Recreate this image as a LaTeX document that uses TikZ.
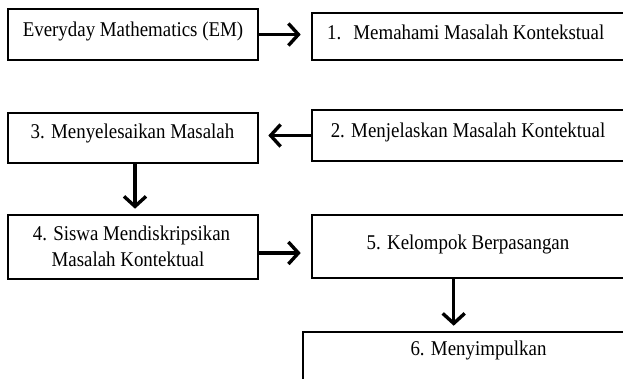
\documentclass[tikz,border=0pt]{standalone}
\usepackage{fontspec}
\setmainfont{Liberation Serif}[FakeStretch=0.9]
\usetikzlibrary{arrows.meta}
\begin{document}
\begin{tikzpicture}[x=1pt,y=-1pt,
  box/.style={draw, line width=2.6pt, inner sep=0pt},
  lbl/.style={font=\fontsize{21}{25}\selectfont, inner sep=0pt, anchor=base},
  arr/.style={line width=3.4pt, -{Straight Barb[length=10pt,width=22pt]}}]
\useasboundingbox (0,0) rectangle (623,378);
% boxes
\node[box, minimum width=250pt, minimum height=51pt] (b0) at (133,34.5) {};
\node[box, minimum width=318pt, minimum height=47pt] (b1) at (471,36.5) {};
\node[box, minimum width=318pt, minimum height=51pt] (b2) at (471,135.5) {};
\node[box, minimum width=250pt, minimum height=50pt] (b3) at (133,138) {};
\node[box, minimum width=250pt, minimum height=64pt] (b4) at (133,247) {};
\node[box, minimum width=318pt, minimum height=63pt] (b5) at (471,246.5) {};
\node[box, minimum width=327pt, minimum height=58pt] (b6) at (466.5,361) {};
% labels
\node[lbl] (t0) at (133,36) {Everyday Mathematics (EM)};
\node[lbl, anchor=base west] (t1) at (327,39) {1.\hspace{12pt}Memahami Masalah Kontekstual};
\node[lbl] (t2) at (468,137) {2. Menjelaskan Masalah Kontektual};
\node[lbl] (t3) at (132.5,138) {3. Menyelesaikan Masalah};
\node[lbl] (t4a) at (131.5,240) {4. Siswa Mendiskripsikan};
\node[lbl] (t4b) at (128,266) {Masalah Kontektual};
\node[lbl] (t5) at (468,249) {5. Kelompok Berpasangan};
\node[lbl] (t6) at (478.5,355) {6. Menyimpulkan};
% connectors
\draw[arr, shorten >=10pt] (b0.east) -- (b0.east -| b1.west);
\draw[arr, shorten >=9pt] (b2.west) -- (b2.west -| b3.east);
\draw[arr, shorten >=5pt] ([xshift=2pt]b3.south) -- ([xshift=2pt]b3.south |- b4.north);
\draw[arr, shorten >=10pt] ([yshift=-6pt]b4.east) -- ([yshift=-6pt]b4.east -| b5.west);
\draw[arr, shorten >=5pt] ([xshift=143pt]b5.south west) -- ([xshift=143pt]b5.south west |- b6.north);
\end{tikzpicture}
\end{document}
